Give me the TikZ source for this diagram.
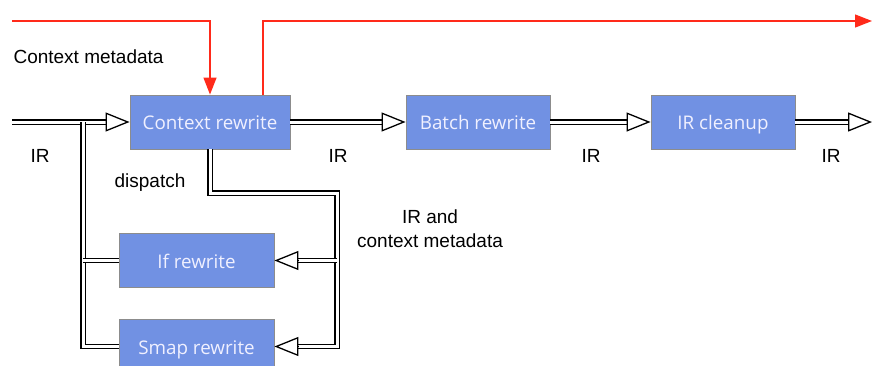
\documentclass[tikz,border=0pt]{standalone}
\usepackage{fontspec}
\setmainfont{Liberation Sans}
\newfontfamily\boxfont{Open Sans}
\usetikzlibrary{arrows.meta}
\definecolor{stepblue}{HTML}{7191E3}
\definecolor{metared}{HTML}{FF2A1A}
\tikzset{
  stage/.style={draw=gray!90, line width=0.9pt, fill=stepblue, text=white!94!blue,
    font=\boxfont\fontsize{18.8}{22}\selectfont, minimum height=54pt, inner sep=0pt,
    text height=18pt, text depth=3pt},
  pipe/.style={draw=black, line width=1.3pt, double=white, double distance=3pt},
  tip/.style={line width=1.3pt, -{Triangle[open, length=24pt, width=19pt]}},
  meta/.style={draw=metared, line width=1.3pt},
  lbl/.style={font=\fontsize{19}{24}\selectfont}
}
\begin{document}
\begin{tikzpicture}[x=1pt, y=-1pt]
\useasboundingbox (0,0) rectangle (872,365);

\node[stage, minimum width=160pt] (ctx)   at (210,122)   {Context rewrite};
\node[stage, minimum width=144pt] (batch) at (478,122)   {Batch rewrite};
\node[stage, minimum width=144pt] (clean) at (723,122)   {IR cleanup};
\node[stage, minimum width=155pt] (ifr)   at (196.5,260.5) {If rewrite};
\node[stage, minimum width=155pt] (smap)  at (196.5,346.5) {Smap rewrite};

\coordinate (in)     at (12,122);
\coordinate (out)    at (872,122);
\coordinate (mdin)   at (12,21);
\coordinate (mdout)  at (872,21);
\coordinate (back)   at (83,122);
\coordinate (dsp)    at (337,193);
\coordinate (ctxup)  at (263,95);

% main IR pipe
\draw[pipe] (in) -- ([xshift=-24pt]ctx.west);
\draw[tip]  ([xshift=-24pt]ctx.west) -- (ctx.west);
\draw[pipe] (ctx.east) -- ([xshift=-24pt]batch.west);
\draw[tip]  ([xshift=-24pt]batch.west) -- (batch.west);
\draw[pipe] (batch.east) -- ([xshift=-24pt]clean.west);
\draw[tip]  ([xshift=-24pt]clean.west) -- (clean.west);
\draw[pipe] (clean.east) -- ([xshift=-24pt]out);
\draw[tip]  ([xshift=-24pt]out) -- (out);

% dispatch
\draw[pipe] (ctx.south) |- (dsp) |- ([xshift=24pt]smap.east);
\draw[tip]  ([xshift=24pt]smap.east) -- (smap.east);
\draw[pipe] (dsp |- ifr.east) -- ([xshift=24pt]ifr.east);
\draw[tip]  ([xshift=24pt]ifr.east) -- (ifr.east);

% back to context rewrite
\draw[pipe] (smap.west) -| (back);
\draw[pipe] (ifr.west) -- (back |- ifr.west);

% context metadata
\draw[meta, -{Triangle[length=17pt, width=13pt]}] (mdin) -| (ctx.north);
\draw[meta, -{Triangle[length=17pt, width=13pt]}] (ctxup) |- (mdout);

\node[lbl, anchor=west] (mdl) at (10,57) {Context metadata};
\node[lbl] (ir1) at (40,156)  {IR};
\node[lbl] (ir2) at (338,156) {IR};
\node[lbl] (ir3) at (591,156) {IR};
\node[lbl] (ir4) at (831,156) {IR};
\node[lbl] (dl)  at (150,183) {dispatch};
\node[lbl, align=center] (ctl) at (430,229) {IR and\\context metadata};
\end{tikzpicture}
\end{document}
